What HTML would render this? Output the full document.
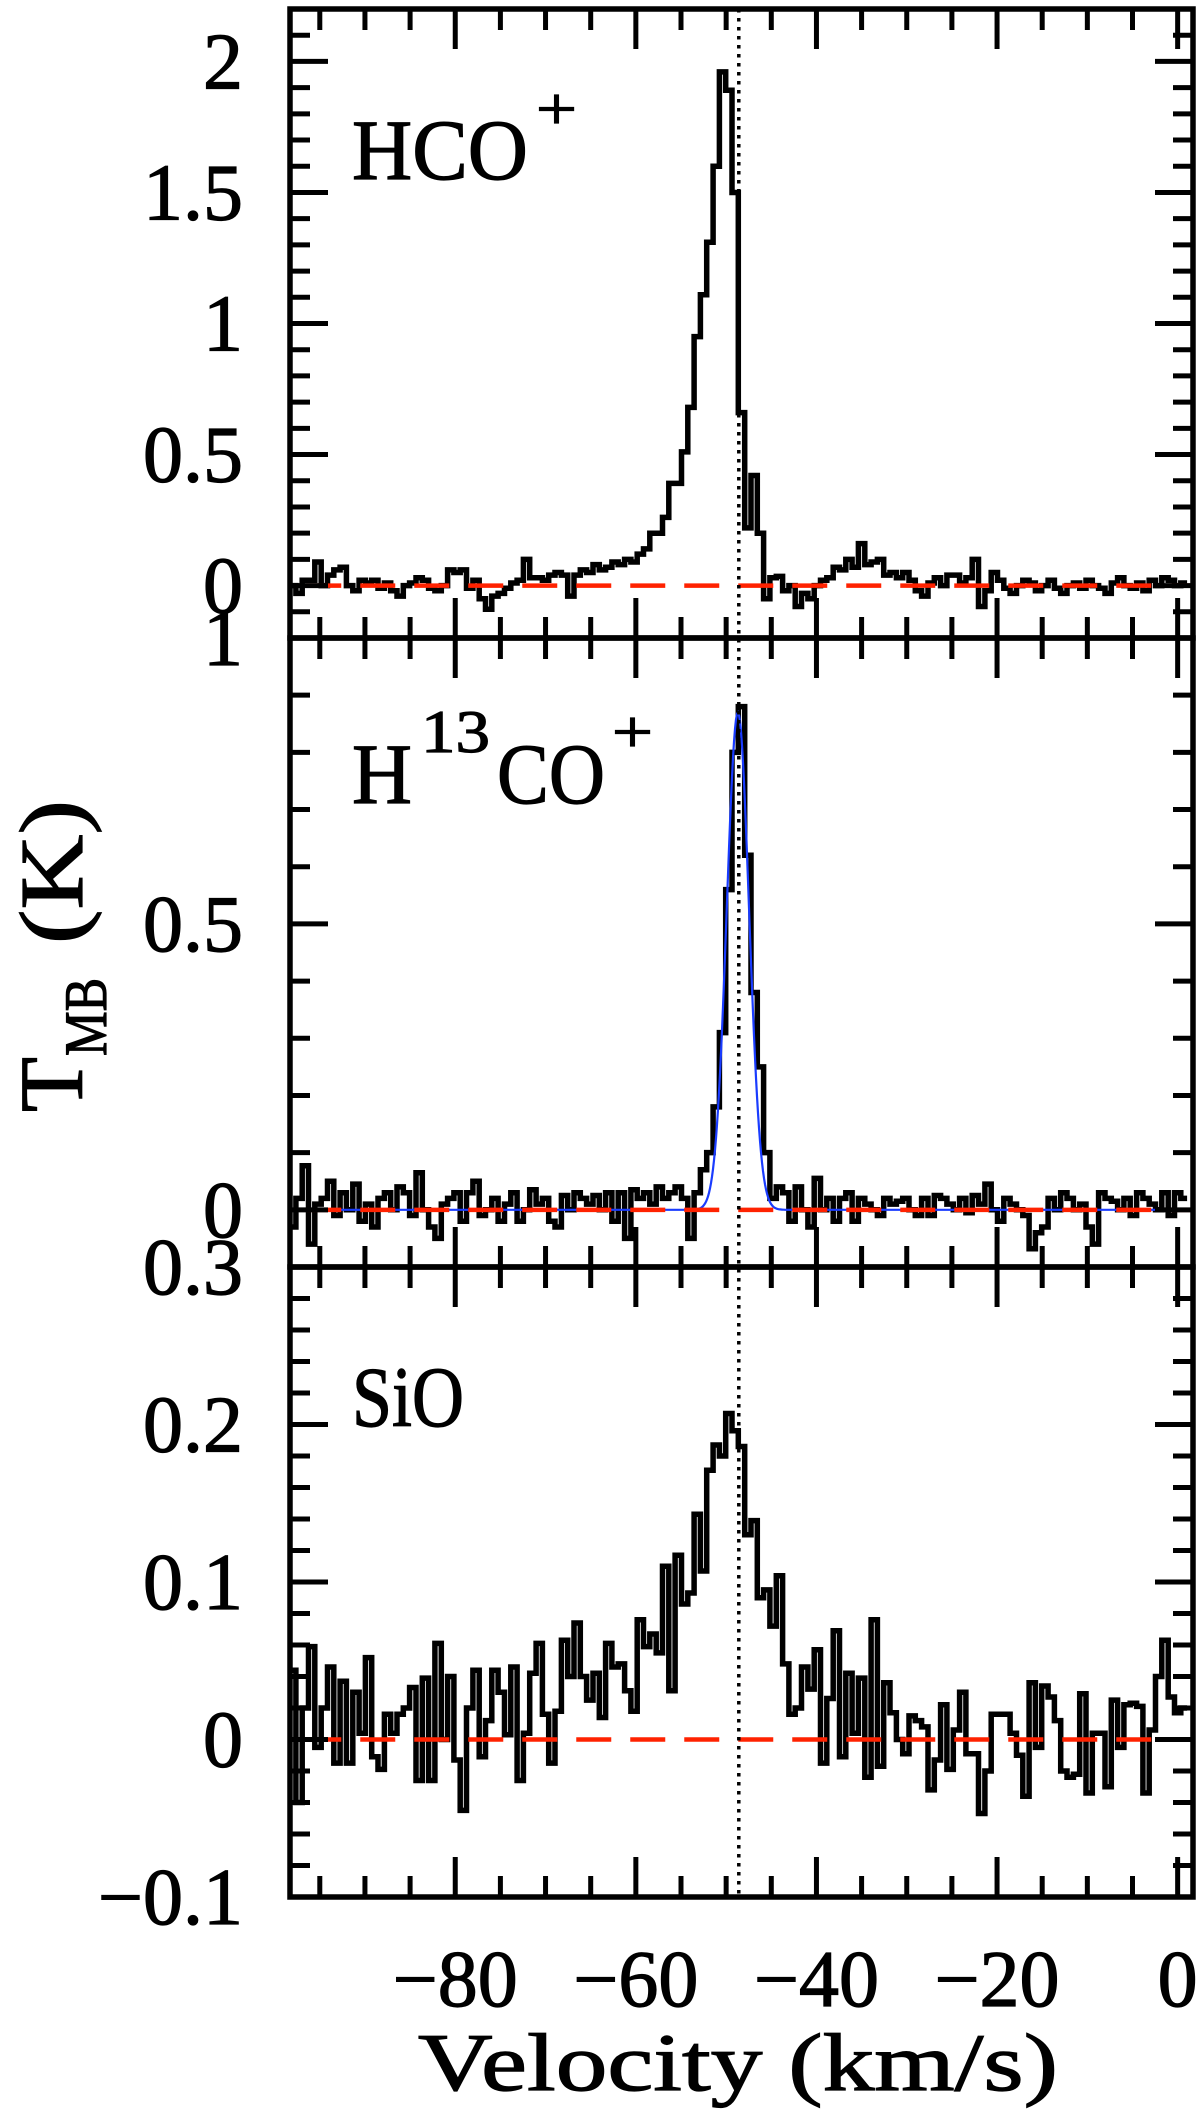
<!DOCTYPE html>
<html><head><meta charset="utf-8"><style>
html,body{margin:0;padding:0;background:#fff;}
svg{display:block;}
text{font-family:"Liberation Serif",serif;fill:#000;stroke:#000;stroke-width:1.2;}
</style></head><body>
<svg id="chart" width="1200" height="2113" viewBox="0 0 1200 2113" xmlns="http://www.w3.org/2000/svg">
<g id="layer-data"></g>
<g id="layer-axes"></g>
<text x="738" y="2090" font-size="82" text-anchor="middle" textLength="640" lengthAdjust="spacingAndGlyphs">Velocity (km/s)</text>
<g transform="translate(82,956) rotate(-90)">
<text x="-156" y="0" font-size="90">T</text>
<text x="-100" y="24" font-size="60" textLength="78" lengthAdjust="spacingAndGlyphs">MB</text>
<text x="12" y="0" font-size="90" textLength="144" lengthAdjust="spacingAndGlyphs">(K)</text>
</g>
<g>
<text x="352" y="179" font-size="86" textLength="176" lengthAdjust="spacingAndGlyphs">HCO</text>
<text x="536" y="129" font-size="60" textLength="41" lengthAdjust="spacingAndGlyphs">+</text>
</g>
<g>
<text x="352" y="803" font-size="86" textLength="60" lengthAdjust="spacingAndGlyphs">H</text>
<text x="421" y="752" font-size="60" textLength="69" lengthAdjust="spacingAndGlyphs">13</text>
<text x="497" y="803" font-size="86" textLength="108" lengthAdjust="spacingAndGlyphs">CO</text>
<text x="612" y="752" font-size="60" textLength="41" lengthAdjust="spacingAndGlyphs">+</text>
</g>
<g>
<text x="352" y="1426" font-size="86" textLength="112" lengthAdjust="spacingAndGlyphs">SiO</text>
</g>
</svg>
<script>
// ---- data ----
const velocityStart = -98.0;
const channelWidth = 0.7;
const hcoValues = [0.0,-0.03,0.02,0.02,0.09,0.0,0.04,0.06,0.07,0.0,-0.02,0.02,0.01,0.02,-0.01,0.01,-0.02,-0.04,0.0,0.01,0.03,0.02,-0.01,-0.02,0.0,0.06,0.05,0.06,-0.01,0.02,-0.05,-0.09,-0.04,-0.03,-0.01,0.01,0.02,0.1,0.03,0.03,0.02,0.04,0.05,0.04,-0.04,0.04,0.06,0.05,0.08,0.06,0.07,0.09,0.08,0.1,0.09,0.12,0.14,0.2,0.2,0.26,0.39,0.39,0.51,0.68,0.95,1.11,1.31,1.6,1.96,1.89,1.5,0.66,0.22,0.42,0.2,-0.05,0.03,0.035,-0.02,0.0,-0.08,-0.03,-0.05,0.0,0.02,0.03,0.07,0.06,0.1,0.07,0.16,0.08,0.09,0.1,0.04,0.05,0.03,0.05,0.02,-0.02,-0.04,0.01,0.03,0.0,0.04,0.04,0.01,0.03,0.1,-0.08,-0.02,0.05,0.02,-0.01,-0.03,0.0,0.02,0.01,-0.02,0.0,0.02,-0.01,-0.03,0.0,0.01,-0.01,0.02,0.0,-0.01,-0.03,0.01,0.03,0.0,-0.01,0.01,-0.02,0.02,0.0,0.03,0.02,0.0,0.01];
const h13coValues = [-0.03,0.02,0.077,-0.06,0.01,0.02,0.05,-0.01,0.03,0.0,0.045,-0.02,0.01,-0.03,0.02,0.03,0.0,0.04,0.03,-0.01,0.065,0.0,-0.03,-0.05,0.01,0.02,0.03,-0.02,0.03,0.05,-0.01,0.0,0.02,-0.02,0.01,0.03,-0.02,0.0,0.035,0.01,0.02,-0.02,-0.03,0.025,0.0,0.03,0.02,0.01,0.025,0.0,0.03,-0.02,0.03,-0.05,0.035,0.02,0.03,0.01,0.04,0.02,0.03,0.04,0.02,-0.05,0.03,0.07,0.1,0.18,0.31,0.56,0.8,0.88,0.62,0.38,0.25,0.1,0.02,0.04,0.03,-0.02,0.04,0.0,-0.03,0.055,0.0,0.02,-0.02,0.02,0.03,-0.02,0.02,0.01,0.0,-0.01,0.02,0.01,0.015,0.02,0.0,-0.01,0.02,-0.01,0.025,0.02,0.01,0.0,0.02,-0.005,0.025,0.01,0.045,0.0,-0.02,0.02,0.01,0.0,-0.01,-0.068,-0.04,-0.03,0.02,0.0,0.03,0.02,0.0,0.01,-0.03,-0.06,0.03,0.02,0.015,0.0,0.02,-0.01,0.03,0.02,0.01,0.0,0.03,-0.01,0.03,0.02];
const sioValues = [0.044,-0.04,0.02,0.059,-0.005,0.02,0.046,-0.015,0.037,-0.015,0.03,0.004,0.052,-0.011,-0.019,0.016,0.004,0.016,0.02,0.033,-0.026,0.039,-0.026,0.061,0.0,0.04,-0.013,-0.045,0.02,0.044,-0.011,0.012,0.044,0.03,0.003,0.046,-0.026,0.004,0.042,0.061,0.016,-0.015,0.018,0.063,0.04,0.074,0.04,0.025,0.042,0.014,0.061,0.046,0.048,0.031,0.018,0.076,0.059,0.067,0.055,0.11,0.031,0.117,0.086,0.093,0.143,0.107,0.171,0.187,0.18,0.207,0.196,0.186,0.13,0.139,0.09,0.095,0.072,0.104,0.048,0.016,0.02,0.046,0.032,0.057,-0.015,0.026,0.069,-0.011,0.042,0.004,0.039,-0.024,0.076,-0.017,0.036,0.017,0.0,-0.009,0.015,0.012,0.008,-0.032,-0.013,0.022,-0.019,0.006,0.03,-0.009,-0.009,-0.047,-0.02,0.016,0.016,0.016,0.004,-0.01,-0.036,0.036,-0.005,0.034,0.027,0.012,-0.02,-0.024,-0.022,0.029,-0.034,0.004,0.004,-0.03,0.025,-0.005,0.022,0.023,0.021,-0.034,0.006,0.04,0.063,0.027,0.017,0.02];
const fitParams = [0.87, -48.7, 2.9]; // amplitude (K), centre (km/s), FWHM (km/s)
const systemicVelocity = -48.6;
const xTickLabels = ["\u221280","\u221260","\u221240","\u221220","0"];
const xTickValues = [-80,-60,-40,-20,0];
const p1TickValues = [2,1.5,1,0.5,0];
const p1TickLabels = ["2","1.5","1","0.5","0"];
const p2TickValues = [1,0.5,0];
const p2TickLabels = ["1","0.5","0"];
const p3TickValues = [0.3,0.2,0.1,0,-0.1];
const p3TickLabels = ["0.3","0.2","0.1","0","\u22120.1"];

// ---- geometry ----
const NS = "http://www.w3.org/2000/svg";
const X0 = 290, X1 = 1193, VMIN = -98.3, VMAX = 1.7;
const xs = v => X0 + (v - VMIN) / (VMAX - VMIN) * (X1 - X0);
const panels = [
  {name:"hco", top:9, bot:638, ymin:-0.2, ymax:2.2, minor:0.1, major:0.5, vals:hcoValues, tv:p1TickValues, tl:p1TickLabels},
  {name:"h13co", top:638, bot:1267, ymin:-0.1, ymax:1.0, minor:0.1, major:0.5, vals:h13coValues, tv:p2TickValues, tl:p2TickLabels},
  {name:"sio", top:1267, bot:1897, ymin:-0.1, ymax:0.3, minor:0.02, major:0.1, vals:sioValues, tv:p3TickValues, tl:p3TickLabels}
];
panels.forEach(p => { p.ys = t => p.bot - (t - p.ymin) / (p.ymax - p.ymin) * (p.bot - p.top); });

const dataG = document.getElementById("layer-data");
const axesG = document.getElementById("layer-axes");
function mk(tag, parent, attrs) {
  const e = document.createElementNS(NS, tag);
  for (const k in attrs) e.setAttribute(k, attrs[k]);
  parent.appendChild(e);
  return e;
}

const defs = mk("defs", dataG, {});
panels.forEach((p, i) => {
  const cp = mk("clipPath", defs, {id:"clip" + i});
  mk("rect", cp, {x:X0, y:p.top, width:X1 - X0, height:p.bot - p.top});
});

panels.forEach((p, pi) => {
  const g = mk("g", dataG, {"clip-path":"url(#clip" + pi + ")"});
  
  
  let d = "";
  p.vals.forEach((t, i) => {
    const v = velocityStart + channelWidth * i;
    const xa = xs(v - channelWidth / 2), xb = xs(v + channelWidth / 2), y = p.ys(t);
    d += (i === 0 ? "M" : "L") + xa.toFixed(1) + "," + y.toFixed(1) + "L" + xb.toFixed(1) + "," + y.toFixed(1);
  });
  const sp = mk("path", g, {d:d, fill:"none", stroke:"#000", "stroke-width":5.5, "stroke-linejoin":"miter"});
  
  
  if (p.name === "h13co") {
    const sig = fitParams[2] / 2.3548;
    let fd = "";
    for (let x = X0; x <= X1; x += 1) {
      const v = VMIN + (x - X0) / (X1 - X0) * (VMAX - VMIN);
      const t = fitParams[0] * Math.exp(-0.5 * Math.pow((v - fitParams[1]) / sig, 2));
      fd += (x === X0 ? "M" : "L") + x + "," + p.ys(t).toFixed(1);
    }
    const fp = mk("path", g, {d:fd, fill:"none", stroke:"#1a3cff", "stroke-width":2.2});
    
    
  }
  const zl = mk("line", g, {x1:xs(-96.5), x2:X1, y1:p.ys(0), y2:p.ys(0), stroke:"#ff2200", "stroke-width":4.5, "stroke-dasharray":"35 19"});
  
  
});

const sv = mk("line", dataG, {x1:xs(systemicVelocity), x2:xs(systemicVelocity), y1:9, y2:1897, stroke:"#000", "stroke-width":3.5, "stroke-dasharray":"3.5 5.5"});



panels.forEach((p, pi) => {
  const g = mk("g", axesG, {stroke:"#000", "stroke-width":5, fill:"none"});
  
  
  const fr = mk("rect", g, {x:X0, y:p.top, width:X1 - X0, height:p.bot - p.top, "stroke-width":5.5});
  
  
  for (let v = -95; v <= 0.01; v += 5) {
    const isMaj = Math.abs(v % 20) < 0.01;
    const L = isMaj ? 40 : 21, x = xs(v);
    mk("line", g, {x1:x, x2:x, y1:p.bot, y2:p.bot - L});
    mk("line", g, {x1:x, x2:x, y1:p.top, y2:p.top + L});
  }
  const n = Math.round((p.ymax - p.ymin) / p.minor);
  for (let k = 1; k < n; k++) {
    const t = p.ymin + k * p.minor;
    const r = t / p.major;
    const isMaj = Math.abs(r - Math.round(r)) < 1e-6;
    const L = isMaj ? 38 : 20, y = p.ys(t);
    mk("line", g, {x1:X0, x2:X0 + L, y1:y, y2:y});
    mk("line", g, {x1:X1, x2:X1 - L, y1:y, y2:y});
  }
  p.tv.forEach((t, i) => {
    const tx = mk("text", axesG, {x:243, y:(p.ys(t) + 27).toFixed(1), "font-size":80, "text-anchor":"end"});
    tx.textContent = p.tl[i];
    
    
  });
});
xTickValues.forEach((v, i) => {
  const tx = mk("text", axesG, {x:xs(v).toFixed(1), y:2006, "font-size":80, "text-anchor":"middle"});
  tx.textContent = xTickLabels[i];
  
  
});
</script>
</body></html>
